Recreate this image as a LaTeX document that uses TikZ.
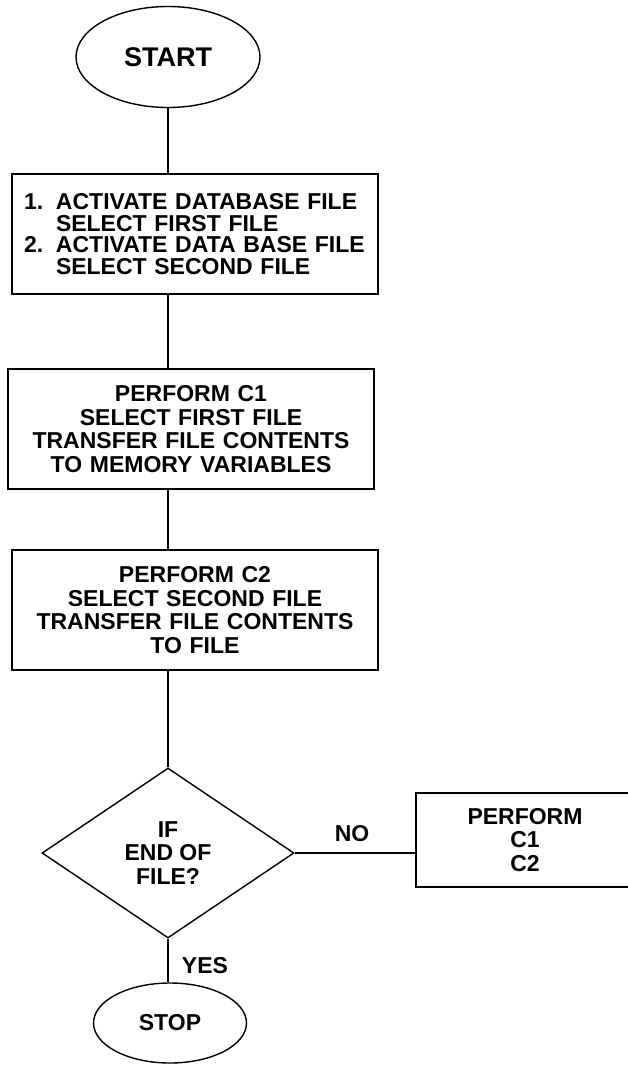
\documentclass[tikz,border=0pt]{standalone}
\usepackage{fontspec}
\setmainfont{Liberation Sans}
\usepackage{tikz}
\usetikzlibrary{shapes.geometric,positioning}
\tikzset{
  chart/.style={draw=black, line width=1.4pt, inner sep=0pt, font=\fontsize{23}{23.5}\selectfont\bfseries},
  termnode/.style={chart, ellipse},
  procbox/.style={chart, rectangle, text width=342pt, inner xsep=12pt, minimum height=120pt, align=center},
  decnode/.style={chart, diamond, minimum width=252pt, minimum height=170pt, align=center},
  flow/.style={line width=1.4pt},
  edgelabel/.style={font=\fontsize{23}{23.5}\selectfont\bfseries}
}
\newcommand{\hang}{\makebox[32pt][l]}
\begin{document}
\begin{tikzpicture}[x=1pt,y=-1pt]
	\useasboundingbox (0,0) rectangle (628,1065);
	\clip (0,0) rectangle (628,1065);
	
	%%%%%% terminais %%%%%%
	\node[termnode, minimum width=184pt, minimum height=101pt, font=\fontsize{27}{27}\selectfont\bfseries] (start) at (168,57) {START};
	\node[termnode, minimum width=153pt, minimum height=80pt] (stop) at (170,1023) {STOP};
	
	%%%%%% caixas %%%%%%
	\node[procbox, align=left, font=\fontsize{23}{21.5}\selectfont\bfseries] (load) at (195,234)
	{\hang{1.}ACTIVATE DATABASE FILE\\ \hspace*{32pt}SELECT FIRST FILE\\ \hang{2.}ACTIVATE DATA BASE FILE\\ \hspace*{32pt}SELECT SECOND FILE};
	\node[procbox] (copyone) at (191,429)
	{PERFORM C1\\ SELECT FIRST FILE\\ TRANSFER FILE CONTENTS\\ TO MEMORY VARIABLES};
	\node[procbox] (copytwo) at (195,610)
	{PERFORM C2\\ SELECT SECOND FILE\\ TRANSFER FILE CONTENTS\\ TO FILE};
	\node[chart, rectangle, minimum width=218pt, minimum height=94pt, align=center] (again) at (525,840)
	{PERFORM\\ C1\\ C2};
	
	%%%%%% decisao %%%%%%
	\node[decnode] (eof) at (168,853) {IF\\ END OF\\ FILE?};
	
	%%%%%% ligacoes %%%%%%
	\draw[flow] (start.south) -- (start.south |- load.north);
	\draw[flow] (load.south -| start.south) -- (copyone.north -| start.south);
	\draw[flow] (copyone.south -| start.south) -- (copytwo.north -| start.south);
	\draw[flow] (copytwo.south -| eof.north) -- (eof.north);
	\draw[flow] (eof.east) -- (eof.east -| again.west);
	\draw[flow] (eof.south) -- (eof.south |- stop.north);
	
	%%%%%% rotulos %%%%%%
	\node[edgelabel] (nolabel) at (352,834) {NO};
	\node[edgelabel] (yeslabel) at (205,966) {YES};
\end{tikzpicture}
\end{document}
